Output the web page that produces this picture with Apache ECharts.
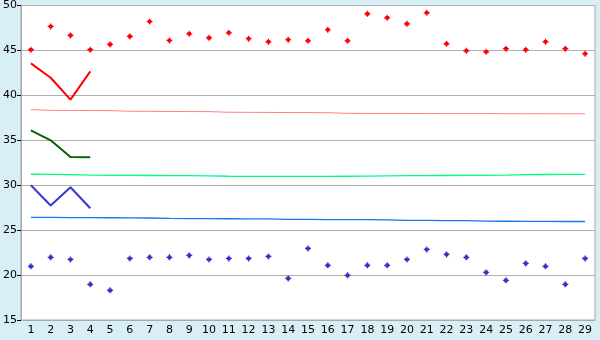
<!DOCTYPE html>
<html><head><meta charset="utf-8">
<script src="https://cdn.jsdelivr.net/npm/echarts@6/dist/echarts.min.js"></script>
<style>html,body{margin:0;padding:0;background:#d9eff6;}#c{width:600px;height:340px;}</style>
</head><body><div id="c"></div>
<script>
var categories = ['1','2','3','4','5','6','7','8','9','10','11','12','13','14','15','16','17','18','19','20','21','22','23','24','25','26','27','28','29'];
var redPoints = [45.08,47.67,46.67,45.08,45.67,46.56,48.22,46.11,46.85,46.4,46.96,46.3,45.96,46.19,46.07,47.3,46.07,49.07,48.63,47.96,49.19,45.74,44.96,44.85,45.19,45.07,45.96,45.19,44.63];
var bluePoints = [20.97,21.97,21.74,18.97,18.3,21.85,21.97,21.97,22.19,21.74,21.85,21.85,22.07,19.63,22.96,21.08,19.97,21.08,21.08,21.74,22.85,22.3,21.97,20.3,19.41,21.3,20.97,18.97,21.85];
var redLine = [43.56,41.96,39.52,42.67];
var darkGreenLine = [36.11,35.0,33.15,33.11];
var darkBlueLine = [30.0,27.74,29.78,27.44];
var pinkLine = [38.41,38.33,38.32,38.31,38.3,38.23,38.22,38.21,38.2,38.19,38.12,38.11,38.1,38.09,38.08,38.07,38.0,37.99,37.99,37.98,37.98,37.97,37.97,37.97,37.96,37.96,37.96,37.95,37.95];
var greenLine = [31.22,31.2,31.18,31.12,31.1,31.09,31.08,31.07,31.06,31.05,31.0,30.99,30.98,30.98,30.98,30.99,31.0,31.01,31.05,31.06,31.07,31.08,31.09,31.1,31.12,31.18,31.19,31.2,31.2];
var blueLine = [26.42,26.41,26.4,26.39,26.38,26.37,26.35,26.3,26.29,26.28,26.27,26.26,26.25,26.2,26.19,26.18,26.17,26.16,26.15,26.09,26.08,26.07,26.06,26.0,25.99,25.98,25.97,25.96,25.96];
var yTicks = {min:15, max:50, interval:5};

var chart = echarts.init(document.getElementById('c'));
var sym = 'path://M2,0h1v1h1v1h1v1h-1v1h-1v1h-1v-1h-1v-1h-1v-1h1v-1h1z';
function line(data, color, width, z){
  return {type:'line', data:data, symbol:'none', animation:false, z:z,
    lineStyle:{color:color, width:width}, itemStyle:{color:color}};
}
function pts(data, color){
  return {type:'line', data:data, symbol:sym, symbolSize:6, showSymbol:true, animation:false, z:10,
    lineStyle:{width:0, opacity:0}, itemStyle:{color:color}};
}
chart.setOption({
  animation:false,
  backgroundColor:'#d9eff6',
  textStyle:{fontFamily:'DejaVu Sans'},
  grid:{left:20, right:5, top:5, bottom:20, show:true, backgroundColor:'#ffffff', borderColor:'#a8a8a8', borderWidth:1},
  xAxis:{type:'category', data:categories, boundaryGap:true,
    axisLine:{lineStyle:{color:'#a8a8a8'}},
    axisTick:{alignWithLabel:true, length:5, lineStyle:{color:'#000'}},
    axisLabel:{color:'#000', fontSize:11, margin:5, interval:0, fontFamily:'DejaVu Sans'}},
  yAxis:{type:'value', min:yTicks.min, max:yTicks.max, interval:yTicks.interval,
    axisLine:{show:true, lineStyle:{color:'#a8a8a8'}},
    axisTick:{show:true, length:4, lineStyle:{color:'#000'}},
    splitLine:{lineStyle:{color:'#b0b0b0'}},
    axisLabel:{color:'#000', fontSize:11, margin:4, fontFamily:'DejaVu Sans'}},
  series:[
    line(pinkLine,'#ff8080',1,2),
    line(greenLine,'#00ff80',1.3,2),
    line(blueLine,'#1478f0',1.3,2),
    line(redLine,'#ff0000',2,3),
    line(darkGreenLine,'#006400',2,3),
    line(darkBlueLine,'#3838d0',2,3),
    pts(redPoints,'#ff0000'),
    pts(bluePoints,'#3333cc')
  ]
});
</script></body></html>
